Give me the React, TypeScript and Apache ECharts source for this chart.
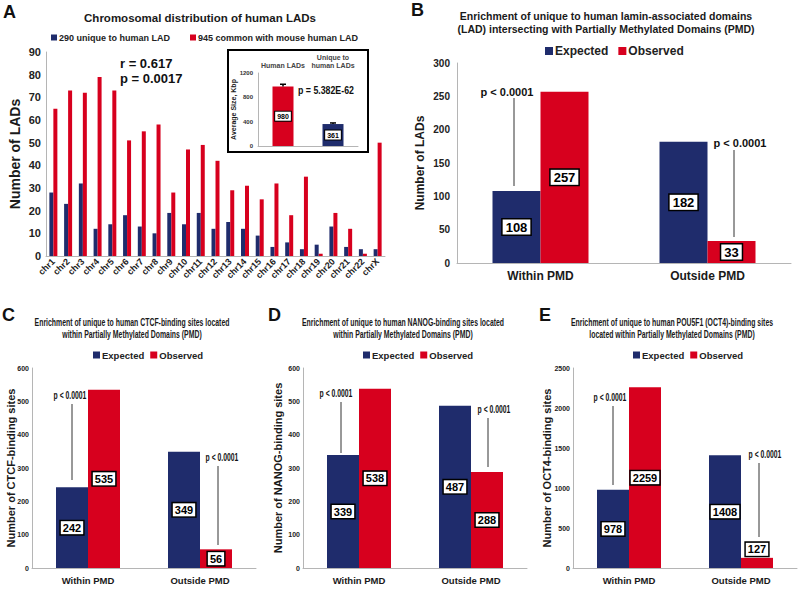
import React, { useEffect, useRef } from "react";
import * as echarts from "echarts";

const chromosomes = ["chr1","chr2","chr3","chr4","chr5","chr6","chr7","chr8","chr9","chr10","chr11","chr12","chr13","chr14","chr15","chr16","chr17","chr18","chr19","chr20","chr21","chr22","chrX"];
const uniqueLADs = [28,23,32,12,14,18,13,10,19,14,19,12,15,12,9,4,6,3,5,13,4,3,3];
const commonLADs = [65,73,72,79,73,51,55,58,28,47,49,42,29,31,25,32,18,35,1,19,12,1,50];

const insetCategories = ["Human LADs", "Unique to\nhuman LADs"];
const insetSizes = [980, 361];
const insetErrors = [35, 18];

const pmdCategories = ["Within PMD", "Outside PMD"];
const ladExpected = [108, 182];
const ladObserved = [257, 33];
const ctcfExpected = [242, 349];
const ctcfObserved = [535, 56];
const nanogExpected = [339, 487];
const nanogObserved = [538, 288];
const oct4Expected = [978, 1408];
const oct4Observed = [2259, 127];

const BLUE = "#1f2c6c";
const RED = "#d7001e";
const FONT = "'Liberation Sans', Arial, sans-serif";
const AXIS = "#b5b5b5";

function valueLabel(fs: number, pad: number[] = [1, 3]) {
  return {
    show: true,
    position: "inside",
    color: "#000",
    fontWeight: "bold",
    fontSize: fs,
    fontFamily: FONT,
    backgroundColor: "#fff",
    borderColor: "#000",
    borderWidth: 1.5,
    padding: pad,
  };
}

export default function App() {
  const ref = useRef<HTMLDivElement>(null);
  useEffect(() => {
    if (!ref.current) return;
    const chart = echarts.init(ref.current, null, { renderer: "svg" });

    const grids = [
      { left: 46, top: 52, width: 339, height: 204 },
      { left: 258, top: 73, width: 100, height: 73 },
      { left: 457, top: 63, width: 334, height: 200 },
      { left: 32, top: 368, width: 224, height: 200 },
      { left: 303, top: 368, width: 224, height: 200 },
      { left: 573, top: 368, width: 224, height: 200 },
    ];

    const plain = (v: number) => String(v);

    const catAxis = (gridIndex: number, data: string[], extra: any = {}) => ({
      type: "category",
      gridIndex,
      data,
      axisLine: { lineStyle: { color: AXIS, width: 1 } },
      axisTick: { show: false },
      ...extra,
    });
    const valAxis = (gridIndex: number, max: number, interval: number, name: string, nameGap: number, nameFs: number, axisLabel: any, extra: any = {}) => ({
      type: "value",
      gridIndex,
      min: 0,
      max,
      interval,
      name,
      nameLocation: "middle",
      nameGap,
      nameMoveOverlap: false,
      nameTextStyle: { fontSize: nameFs, fontWeight: "bold", color: "#1a1a1a", fontFamily: FONT },
      axisLine: { show: true, lineStyle: { color: AXIS, width: 1 } },
      axisTick: { show: false },
      splitLine: { show: false },
      axisLabel: { fontWeight: "bold", color: "#222", fontFamily: FONT, formatter: plain, ...axisLabel },
      ...extra,
    });

    const pmdXAxis = (g: number, fs: number) =>
      catAxis(g, pmdCategories, { axisLabel: { fontSize: fs, fontWeight: "bold", color: "#1a1a1a", fontFamily: FONT, margin: 7 } });

    const xAxes = [
      catAxis(0, chromosomes, { axisLabel: { interval: 0, rotate: 45, fontSize: 9, fontWeight: "bold", color: "#222", fontFamily: FONT, margin: 4 } }),
      catAxis(1, insetCategories, { position: "top", z: 10, axisLine: { show: false }, axisLabel: { interval: 0, fontSize: 7, fontWeight: "bold", color: "#444", fontFamily: FONT, margin: 4, lineHeight: 8 } }),
      catAxis(1, insetCategories, { position: "bottom", z: 10, axisLabel: { show: false } }),
      pmdXAxis(2, 12),
      pmdXAxis(3, 9.5),
      pmdXAxis(4, 9.5),
      pmdXAxis(5, 9.5),
    ];

    const smallTicks = { fontSize: 7, margin: 3 };
    const yAxes = [
      valAxis(0, 90, 10, "Number of LADs", 24, 14, { fontSize: 11, margin: 5 }),
      valAxis(1, 1200, 400, "Average Size, Kbp", 21, 7, { fontSize: 6, margin: 5, color: "#333" }, { z: 10 }),
      valAxis(2, 300, 50, "Number of LADs", 31, 12, { fontSize: 10, margin: 7 }),
      valAxis(3, 600, 100, "Number of CTCF-binding sites", 16, 11, smallTicks),
      valAxis(4, 600, 100, "Number of NANOG-binding sites", 20, 11, smallTicks),
      valAxis(5, 2500, 500, "Number of OCT4-binding sites", 21, 11, smallTicks),
    ];

    const pmdSeries = (xi: number, yi: number, expected: number[], observed: number[], bw: number, fs: number, pad: number[], topIdx: number[] = []) => [
      {
        type: "bar", name: "Expected", xAxisIndex: xi, yAxisIndex: yi, data: expected,
        barWidth: bw, barGap: "0%",
        itemStyle: { color: BLUE },
        label: valueLabel(fs, pad),
      },
      {
        type: "bar", name: "Observed", xAxisIndex: xi, yAxisIndex: yi,
        data: observed.map((v, i) => topIdx.includes(i) ? { value: v, label: { position: "top", distance: 2 } } : v),
        barWidth: bw, barGap: "0%",
        itemStyle: { color: RED },
        label: valueLabel(fs, pad),
      },
    ];

    const series: any[] = [
      { type: "bar", name: "290 unique to human LAD", xAxisIndex: 0, yAxisIndex: 0, data: uniqueLADs, barWidth: 4, barGap: "0%", itemStyle: { color: BLUE } },
      { type: "bar", name: "945 common with mouse human LAD", xAxisIndex: 0, yAxisIndex: 0, data: commonLADs, barWidth: 4, barGap: "0%", itemStyle: { color: RED } },
      {
        type: "bar", name: "Average size", xAxisIndex: 1, yAxisIndex: 1, z: 5,
        data: insetSizes.map((v, i) => ({ value: v, itemStyle: { color: i === 0 ? RED : BLUE } })),
        barWidth: 21,
        label: { ...valueLabel(7, [1, 2]), borderWidth: 1 },
      },
      {
        type: "custom", name: "Error", xAxisIndex: 1, yAxisIndex: 1, z: 6,
        data: insetSizes.map((v, i) => [i, v, v + insetErrors[i]]),
        renderItem: (params: any, api: any) => {
          const base = api.coord([api.value(0), api.value(1)]);
          const top = api.coord([api.value(0), api.value(2)]);
          return {
            type: "group",
            children: [
              { type: "line", shape: { x1: base[0], y1: base[1], x2: top[0], y2: top[1] }, style: { stroke: "#000", lineWidth: 1.5 } },
              { type: "line", shape: { x1: top[0] - 3, y1: top[1], x2: top[0] + 3, y2: top[1] }, style: { stroke: "#000", lineWidth: 1.5 } },
            ],
          };
        },
      },
      ...pmdSeries(3, 2, ladExpected, ladObserved, 48, 13, [1, 3]),
      ...pmdSeries(4, 3, ctcfExpected, ctcfObserved, 32, 11, [1, 2]),
      ...pmdSeries(5, 4, nanogExpected, nanogObserved, 32, 11, [1, 2]),
      ...pmdSeries(6, 5, oct4Expected, oct4Observed, 32, 11, [1, 2], [1]),
    ];

    const legendBase = { icon: "rect", selectedMode: false as const };
    const smallLegend = (left: number) => ({
      ...legendBase, data: ["Expected", "Observed"], left, top: 345, itemGap: 6, itemWidth: 7, itemHeight: 7,
      textStyle: { fontSize: 9.5, fontWeight: "bold", color: "#222", fontFamily: FONT, padding: [0, 0, 0, -3] },
    });
    const legends = [
      { ...legendBase, data: ["290 unique to human LAD", "945 common with mouse human LAD"], left: 46, top: 28, itemGap: 20, itemWidth: 6, itemHeight: 6, textStyle: { fontSize: 9, fontWeight: "bold", color: "#222", fontFamily: FONT, padding: [0, 0, 0, -3] } },
      { ...legendBase, data: ["Expected", "Observed"], left: 540, top: 40, itemGap: 10, itemWidth: 8, itemHeight: 8, textStyle: { fontSize: 12, fontWeight: "bold", color: "#222", fontFamily: FONT, padding: [0, 0, 0, -3] } },
      smallLegend(88),
      smallLegend(358),
      smallLegend(628),
    ];

    const titleStyle = (fs: number, lh: number) => ({ fontSize: fs, fontWeight: "bold", color: "#1a1a1a", fontFamily: FONT, lineHeight: lh });
    const titles = [
      { text: "Chromosomal distribution of human LADs", left: 200, top: 11, textAlign: "center", padding: 0, textStyle: titleStyle(11.5, 14) },
      { text: "Enrichment of unique to human lamin-associated domains\n(LAD) intersecting with Partially Methylated Domains (PMD)", left: 606, top: 10, textAlign: "center", padding: 0, textStyle: titleStyle(10.5, 12.5) },
    ];

    const letter = (t: string, x: number, y: number) => ({ type: "text", left: x, top: y, style: { text: t, fontSize: 18, fontWeight: "bold", fill: "#111", fontFamily: FONT } });
    const narrowTitle = (cx: number, text: string) => ({
      type: "text", x: cx, y: 317, scaleX: 0.69, z: 10,
      style: { text, fontSize: 10, fontWeight: "bold", fill: "#1a1a1a", fontFamily: FONT, align: "center", verticalAlign: "top", lineHeight: 11.5 },
    });
    const pText = (cx: number, cy: number, fs: number, sx: number) => ({
      type: "text", x: cx, y: cy, z: 10, scaleX: sx,
      style: { text: "p < 0.0001", fontSize: fs, fontWeight: "bold", fill: "#111", fontFamily: FONT, align: "center", verticalAlign: "middle" },
    });
    const pLine = (x: number, y1: number, y2: number) => ({
      type: "line", z: 10, shape: { x1: x, y1, x2: x, y2 }, style: { stroke: "#333", lineWidth: 1 },
    });

    const graphic = [
      { type: "rect", z: 1, shape: { x: 228, y: 50, width: 140, height: 102 }, style: { fill: "#fff", stroke: "#000", lineWidth: 2 } },
      letter("A", 3, 3),
      letter("B", 411, 1),
      letter("C", 2, 306),
      letter("D", 268, 306),
      letter("E", 539, 306),
      narrowTitle(132, "Enrichment of unique to human CTCF-binding sites located\nwithin Partially Methylated Domains (PMD)"),
      narrowTitle(403, "Enrichment of unique to human NANOG-binding sites located\nwithin Partially Methylated Domains (PMD)"),
      narrowTitle(672, "Enrichment of unique to human POU5F1 (OCT4)-binding sites\nlocated within Partially Methylated Domains (PMD)"),
      { type: "text", x: 120, y: 56, z: 10, style: { text: "r = 0.617\np = 0.0017", fontSize: 13, fontWeight: "bold", fill: "#111", fontFamily: FONT, lineHeight: 15, verticalAlign: "top" } },
      { type: "text", x: 298, y: 90, z: 10, scaleX: 0.88, style: { text: "p = 5.382E-62", fontSize: 10, fontWeight: "bold", fill: "#111", fontFamily: FONT, verticalAlign: "middle" } },
      pText(507, 92, 11, 1), pLine(514, 98, 186),
      pText(740, 143, 11, 1), pLine(734, 150, 237),
      pText(70, 395, 11, 0.62), pLine(72, 404, 480),
      pText(222, 457, 11, 0.62), pLine(218, 466, 545),
      pText(336, 393, 11, 0.62), pLine(341, 402, 453),
      pText(494, 409, 11, 0.62), pLine(488, 418, 467),
      pText(610, 397, 11, 0.62), pLine(613, 406, 485),
      pText(765, 454, 11, 0.62), pLine(759, 463, 537),
    ];

    chart.setOption({
      animation: false,
      backgroundColor: "#fff",
      textStyle: { fontFamily: FONT },
      title: titles,
      legend: legends,
      grid: grids,
      xAxis: xAxes,
      yAxis: yAxes,
      series,
      graphic,
    } as any);

    return () => chart.dispose();
  }, []);

  return <div ref={ref} style={{ position: "absolute", left: 0, top: 0, width: 800, height: 590, background: "#fff" }} />;
}
